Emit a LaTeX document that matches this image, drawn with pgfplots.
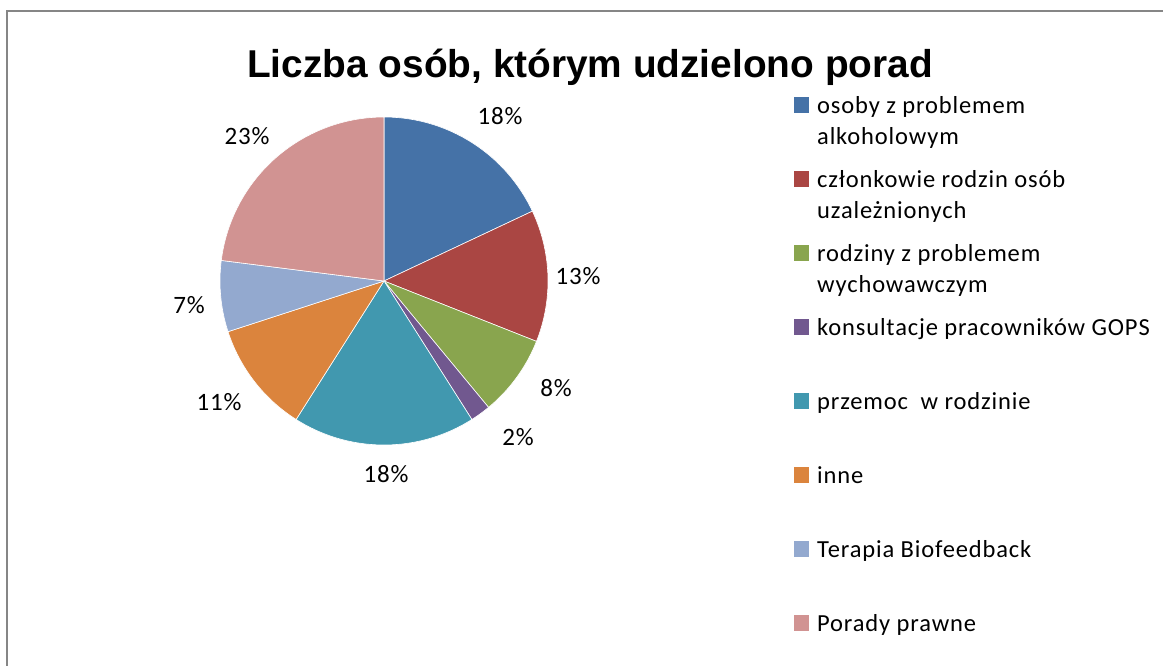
\documentclass[border=0pt]{standalone}
\usepackage{fontspec}
\setmainfont{Carlito}
\newfontfamily\titlefont{Liberation Sans}
\newfontfamily\labfont{Carlito}[LetterSpace=3.5]
\usepackage{pgfplots}
\pgfplotsset{compat=1.18}
\definecolor{cA}{HTML}{4572A7}
\definecolor{cB}{HTML}{AA4643}
\definecolor{cC}{HTML}{89A54E}
\definecolor{cD}{HTML}{71588F}
\definecolor{cE}{HTML}{4198AF}
\definecolor{cF}{HTML}{DB843D}
\definecolor{cG}{HTML}{93A9CF}
\definecolor{cH}{HTML}{D19392}
\definecolor{frame}{HTML}{868686}
% shares (percent) of the eight groups
\def\vA{18}\def\vB{13}\def\vC{8}\def\vD{2}\def\vE{18}\def\vF{11}\def\vG{7}\def\vH{23}
\begin{document}
\begin{tikzpicture}
\pgfmathsetmacro\aO{90}
\pgfmathsetmacro\aA{\aO-3.6*\vA}
\pgfmathsetmacro\aB{\aA-3.6*\vB}
\pgfmathsetmacro\aC{\aB-3.6*\vC}
\pgfmathsetmacro\aD{\aC-3.6*\vD}
\pgfmathsetmacro\aE{\aD-3.6*\vE}
\pgfmathsetmacro\aF{\aE-3.6*\vF}
\pgfmathsetmacro\aG{\aF-3.6*\vG}
\pgfmathsetmacro\aH{\aG-3.6*\vH}
\path[use as bounding box] (0,0) rectangle (1163pt,666pt);
\clip (0,0) rectangle (1163pt,666pt);
\begin{axis}[
  at={(0,0)}, anchor=south west,
  scale only axis, width=1163pt, height=666pt,
  xmin=0, xmax=1163, ymin=0, ymax=666, y dir=reverse,
  axis lines=none, clip=false,
]
\draw[frame, line width=2pt] (axis cs:6.8,720) -- (axis cs:6.8,10.7) -- (axis cs:1220,10.7);
% pie slices
\addplot[fill=cA, draw=white, line width=0.6pt, domain=\aA:\aO, samples=60, variable=\t] ({384+164*cos(\t)},{281-164*sin(\t)}) -- (axis cs:384,281) -- cycle;
\addplot[fill=cB, draw=white, line width=0.6pt, domain=\aB:\aA, samples=60, variable=\t] ({384+164*cos(\t)},{281-164*sin(\t)}) -- (axis cs:384,281) -- cycle;
\addplot[fill=cC, draw=white, line width=0.6pt, domain=\aC:\aB, samples=40, variable=\t] ({384+164*cos(\t)},{281-164*sin(\t)}) -- (axis cs:384,281) -- cycle;
\addplot[fill=cD, draw=white, line width=0.6pt, domain=\aD:\aC, samples=20, variable=\t] ({384+164*cos(\t)},{281-164*sin(\t)}) -- (axis cs:384,281) -- cycle;
\addplot[fill=cE, draw=white, line width=0.6pt, domain=\aE:\aD, samples=60, variable=\t] ({384+164*cos(\t)},{281-164*sin(\t)}) -- (axis cs:384,281) -- cycle;
\addplot[fill=cF, draw=white, line width=0.6pt, domain=\aF:\aE, samples=50, variable=\t] ({384+164*cos(\t)},{281-164*sin(\t)}) -- (axis cs:384,281) -- cycle;
\addplot[fill=cG, draw=white, line width=0.6pt, domain=\aG:\aF, samples=40, variable=\t] ({384+164*cos(\t)},{281-164*sin(\t)}) -- (axis cs:384,281) -- cycle;
\addplot[fill=cH, draw=white, line width=0.6pt, domain=\aH:\aG, samples=70, variable=\t] ({384+164*cos(\t)},{281-164*sin(\t)}) -- (axis cs:384,281) -- cycle;
% title
\node[anchor=base, inner sep=0pt, font=\titlefont\bfseries\fontsize{38.8}{46}\selectfont] at (axis cs:590,77.3) {Liczba osób, którym udzielono porad};
% data labels
\begin{scope}[every node/.style={anchor=base, inner sep=0pt, font=\labfont\fontsize{25}{29}\selectfont}]
\node at (axis cs:500,125) {18\%};
\node at (axis cs:578,284) {13\%};
\node at (axis cs:556,396) {8\%};
\node at (axis cs:518,445) {2\%};
\node at (axis cs:386,482) {18\%};
\node at (axis cs:219,410) {11\%};
\node at (axis cs:189,313) {7\%};
\node at (axis cs:247,145) {23\%};
\end{scope}
% legend keys
\addplot[cA, only marks, mark=square*, mark size=7.3pt, mark options={fill=cA, draw=cA, line width=0pt}] coordinates {(801.5,105)};
\addplot[cB, only marks, mark=square*, mark size=7.3pt, mark options={fill=cB, draw=cB, line width=0pt}] coordinates {(801.5,179)};
\addplot[cC, only marks, mark=square*, mark size=7.3pt, mark options={fill=cC, draw=cC, line width=0pt}] coordinates {(801.5,253)};
\addplot[cD, only marks, mark=square*, mark size=7.3pt, mark options={fill=cD, draw=cD, line width=0pt}] coordinates {(801.5,327)};
\addplot[cE, only marks, mark=square*, mark size=7.3pt, mark options={fill=cE, draw=cE, line width=0pt}] coordinates {(801.5,401)};
\addplot[cF, only marks, mark=square*, mark size=7.3pt, mark options={fill=cF, draw=cF, line width=0pt}] coordinates {(801.5,475)};
\addplot[cG, only marks, mark=square*, mark size=7.3pt, mark options={fill=cG, draw=cG, line width=0pt}] coordinates {(801.5,549)};
\addplot[cH, only marks, mark=square*, mark size=7.3pt, mark options={fill=cH, draw=cH, line width=0pt}] coordinates {(801.5,623)};
% legend texts
\begin{scope}[every node/.style={anchor=base west, inner sep=0pt, font=\labfont\fontsize{24.5}{28}\selectfont}]
\node at (axis cs:817,113.3) {osoby z problemem};
\node at (axis cs:817,144.8) {alkoholowym};
\node at (axis cs:817,187.3) {członkowie rodzin osób};
\node at (axis cs:817,218.8) {uzależnionych};
\node at (axis cs:817,261.3) {rodziny z problemem};
\node at (axis cs:817,292.8) {wychowawczym};
\node at (axis cs:817,335.3) {konsultacje pracowników GOPS};
\node at (axis cs:817,409.3) {przemoc\ \ w rodzinie};
\node at (axis cs:817,483.3) {inne};
\node at (axis cs:817,557.3) {Terapia Biofeedback};
\node at (axis cs:817,631.3) {Porady prawne};
\end{scope}
\end{axis}
\end{tikzpicture}
\end{document}
